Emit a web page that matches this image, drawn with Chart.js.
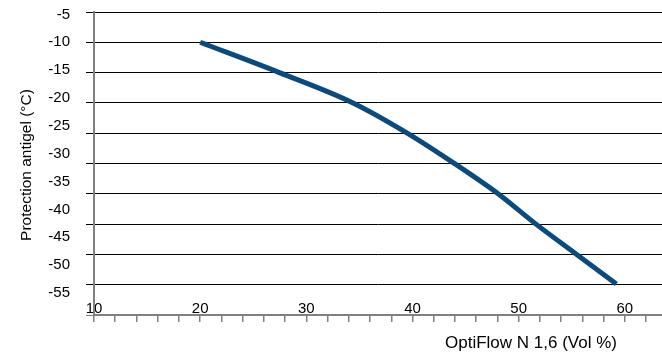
<!DOCTYPE html>
<html>
<head>
<meta charset="utf-8">
<script src="https://cdn.jsdelivr.net/npm/chart.js"></script>
<style>
  html, body { margin: 0; padding: 0; background: #fff; }
  #grafica { display: block; }
</style>
</head>
<body>
<canvas id="grafica" width="662" height="356"></canvas>
<script>
// ========== DATOS ===================
const volPct  = [20, 27.4, 34.3, 39.5, 43.9, 48.0, 51.6, 55.4, 59.2];
const antigel = [-10, -15.4, -20.8, -26.3, -31.7, -37.1, -42.6, -48.0, -53.4];

const yTicks = [-5, -10, -15, -20, -25, -30, -35, -40, -45, -50, -55];
const xLabels = [10, 20, 30, 40, 50, 60];

const xTitle = "OptiFlow N 1,6 (Vol %)";
const yTitle = "Protection antigel (°C)";

// -------------- UTILS ----------------
const GRIS = "#808080";
const FUENTE = '"Liberation Sans", Arial, sans-serif';
function ponerTicks(vals){ return s => { s.ticks = vals.map(v => ({ value: v })); }; }
function sinRelleno(s){ s.paddingTop = 0; s.paddingBottom = 0; s.paddingLeft = 0; s.paddingRight = 0; }

// ========== TITULOS DE EJES ==========
const titulos = {
  id: "titulos",
  afterDraw(chart){
    const c = chart.ctx;
    c.save();
    c.fillStyle = "#000";
    c.textAlign = "center";
    c.textBaseline = "middle";
    c.font = "17px " + FUENTE;
    c.fillText(xTitle, 531, 343);
    c.translate(27, 165);
    c.rotate(-Math.PI / 2);
    c.font = "15.5px " + FUENTE;
    c.fillText(yTitle, 0, 0);
    c.restore();
  }
};

// ========== GRAFICA ==========
function graficar(){
  Chart.defaults.font.family = FUENTE;
  Chart.defaults.color = "#000";
  const ctx = document.getElementById("grafica");

  new Chart(ctx, {
    type: "line",
    data: {
      datasets: [{
        data: volPct.map((x, i) => ({ x, y: antigel[i] })),
        borderColor: "#0b4a7b",
        borderWidth: 5,
        pointRadius: 0,
        cubicInterpolationMode: "monotone",
        xAxisID: "x",
        yAxisID: "y"
      }]
    },
    options: {
      responsive: false,
      animation: false,
      devicePixelRatio: 1,
      layout: { padding: { top: 12, right: 0, bottom: 0, left: 0 } },
      plugins: { legend: { display: false }, tooltip: { enabled: false } },
      scales: {
        x: {
          type: "linear", position: "bottom", min: 10, max: 63.5,
          ticks: {
            stepSize: 2, includeBounds: false, autoSkip: false, maxRotation: 0,
            mirror: true, padding: -3, font: { size: 15 },
            callback: v => xLabels.includes(v) ? String(v) : ""
          },
          grid: { drawOnChartArea: false, tickLength: 7, color: GRIS, lineWidth: 1.5 },
          border: { color: GRIS, width: 2 },
          afterFit: s => { s.height = 41; sinRelleno(s); }
        },
        y: {
          type: "linear", position: "left", min: -58.95, max: -4.575, weight: 1,
          afterBuildTicks: ponerTicks(yTicks),
          ticks: { font: { size: 15 }, padding: 8 },
          grid: { display: false },
          border: { display: false },
          afterFit: s => { s.width = 86; sinRelleno(s); }
        },
        yGrid: {
          type: "linear", position: "left", min: -55, max: -5, weight: 0,
          afterBuildTicks: ponerTicks(yTicks),
          ticks: { display: false },
          grid: {
            color: c => (c.tick && c.tick.value === -55) ? GRIS : "#000",
            lineWidth: 1, tickLength: 8
          },
          border: { color: GRIS, width: 2 },
          afterFit: s => { s.width = 8; sinRelleno(s); }
        }
      }
    },
    plugins: [titulos]
  });
}

// ========== INICIO ==========
window.onload = graficar;
</script>
</body>
</html>
